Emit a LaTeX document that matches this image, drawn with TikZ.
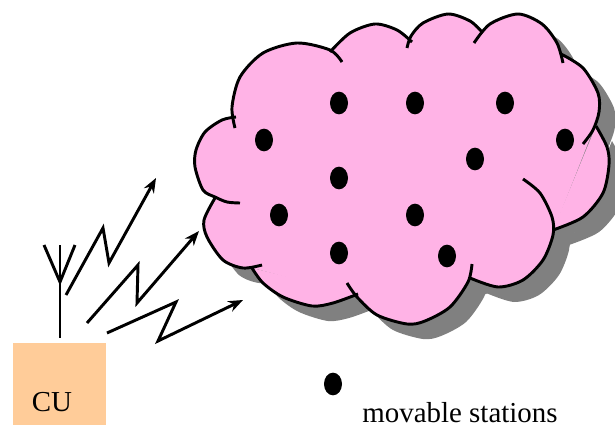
\documentclass[tikz,border=0pt]{standalone}
\usepackage{fontspec}
\setmainfont{Liberation Serif}
\usetikzlibrary{arrows.meta,shapes.geometric}
\definecolor{cloudpink}{HTML}{FFB3E6}
\definecolor{cloudshadow}{HTML}{808080}
\definecolor{cupeach}{HTML}{FFCC99}
\tikzset{
  >={Stealth[length=11pt,width=8.5pt]},
  every node/.style={font=\fontsize{21.7}{24}\selectfont,text=black},
  cubox/.style={fill=cupeach,minimum width=69.75pt,minimum height=61.5pt,inner sep=0pt},
  station/.style={ellipse,fill=black,minimum width=13.5pt,minimum height=17pt,inner sep=0pt},
  zigzag/.style={->,line width=2.2pt,draw=black},
  mast/.style={line width=2.2pt,draw=black},
  cloudline/.style={draw=black,line width=2.2pt}
}
\newcommand{\cloudlobes}[1]{
  \path[#1] plot[smooth] coordinates {(236,117)(222,120)(205,132)(196,150)(195,167)(203,190)(215,197)(227,202)(240,203)};
  \path[#1] plot[smooth] coordinates {(235,128)(232,107)(240,77)(263,53)(297,43)(330,50)(342,62)};
  \path[#1] plot[smooth] coordinates {(330,52)(350,33)(375,24)(397,30)(412,42)};
  \path[#1] plot[smooth] coordinates {(407,48)(411,36)(423,23)(448,14)(470,21)(482,32)};
  \path[#1] plot[smooth] coordinates {(474,43)(490,24)(518,14)(542,24)(557,43)(563,63)};
  \path[#1] plot[smooth] coordinates {(561,54)(583,68)(598,93)(599,112)(593,130)(583,144)};
  \path[#1] plot[smooth] coordinates {(596,126)(607,147)(609,165)(603,193)(583,217)(553,230)};
  \path[#1] plot[smooth] coordinates {(523,179)(540,193)(552,217)(553,235)(543,260)(523,280)(498,287)(470,278)};
  \path[#1] plot[smooth] coordinates {(472,264)(468,282)(450,307)(425,321)(407,324)(377,315)(357,297)(347,283)};
  \path[#1] plot[smooth] coordinates {(358,294)(333,303)(312,306)(283,297)(263,283)(252,268)};
  \path[#1] plot[smooth] coordinates {(262,265)(243,268)(223,260)(207,237)(204,220)(215,198)};
}
\newcommand{\cloudcore}[1]{
  \fill[#1] (235,118)--(331,52)--(410,40)--(480,30)--(560,52)--(594,128)--(553,232)--(470,279)--(353,295)--(253,268)--(214,198)--cycle;
}
\begin{document}
\begin{tikzpicture}[x=0.75pt,y=-0.75pt]
  \useasboundingbox (0,0) rectangle (615,425);

  % shadow, fill, outline
  \begin{scope}[shift={(16,15)}]
    \cloudlobes{fill=cloudshadow}
    \cloudcore{cloudshadow}
  \end{scope}
  \cloudlobes{fill=cloudpink}
  \cloudcore{cloudpink}
  \cloudlobes{cloudline}

  \foreach \name/\pos in {a/{339,103},b/{415,103},c/{505,103},d/{264,140},e/{565,140},f/{475,159},g/{339,178},h/{279,215},i/{415,215},j/{339,253},k/{447,256}}
    \node[station] (st\name) at (\pos) {};

  \node[cubox] (cu) at (59.5,384) {};
  \node (culabel) at (52,402) {CU};

  \node[station] (legend) at (333,384) {};
  \node[anchor=base] (legendlabel) at (460,422) {movable stations};

  % antenna
  \coordinate (stemtop) at (60,245);
  \coordinate (stemfork) at (60,282);
  \coordinate (stembase) at (60,338);
  \coordinate (prongl) at (44,245);
  \coordinate (prongr) at (75,245);
  \draw[mast] (stemtop)--(stembase);
  \draw[mast] (prongl)--(stemfork)--(prongr);

  % radio links
  \coordinate (linka) at (66,295); \coordinate (linkab) at (103,228); \coordinate (linkac) at (109,263); \coordinate (linkad) at (156,178);
  \coordinate (linkb) at (87,323); \coordinate (linkbb) at (138,265); \coordinate (linkbc) at (137,303); \coordinate (linkbd) at (199,231);
  \coordinate (linkc) at (107,333); \coordinate (linkcb) at (176,302); \coordinate (linkcc) at (158,341); \coordinate (linkcd) at (243,300);
  \draw[zigzag] (linka)--(linkab)--(linkac)--(linkad);
  \draw[zigzag] (linkb)--(linkbb)--(linkbc)--(linkbd);
  \draw[zigzag] (linkc)--(linkcb)--(linkcc)--(linkcd);
\end{tikzpicture}
\end{document}
